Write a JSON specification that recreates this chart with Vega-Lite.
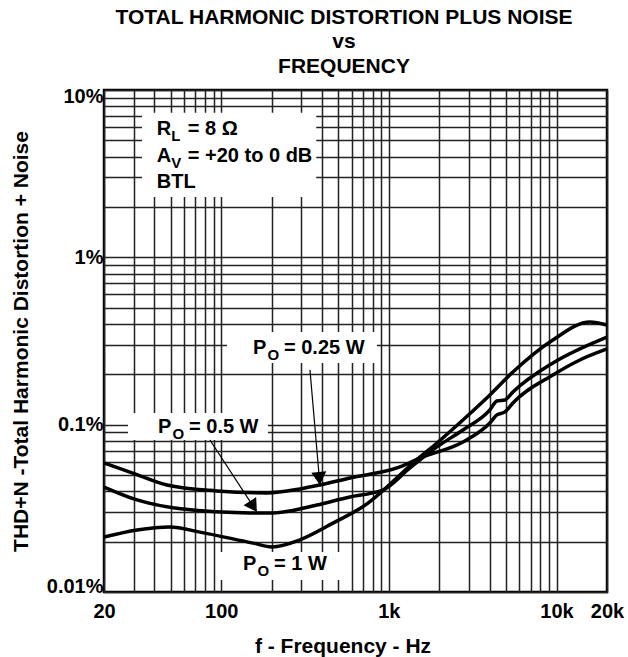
{
  "$schema": "https://vega.github.io/schema/vega-lite/v6.json",
  "width": 503,
  "height": 502,
  "autosize": {"type": "none"},
  "padding": {"left": 104, "top": 90, "right": 21, "bottom": 65},
  "background": "white",
  "title": {
    "text": ["TOTAL HARMONIC DISTORTION PLUS NOISE", "vs", "FREQUENCY"],
    "font": "Liberation Sans", "fontSize": 21, "fontWeight": "bold", "color": "black",
    "lineHeight": 24.6, "baseline": "bottom", "offset": 12, "dx": -11.5, "dy": 24,
    "anchor": "middle", "frame": "group"
  },
  "config": {
    "font": "Liberation Sans",
    "view": {"stroke": "black", "strokeWidth": 2.5},
    "axis": {
      "grid": true, "gridColor": "#222", "gridWidth": 1.5, "gridOpacity": 1,
      "ticks": false, "tickSize": 0, "domain": false,
      "labelFont": "Liberation Sans", "labelFontSize": 20, "labelFontWeight": "bold", "labelColor": "black",
      "labelOverlap": false, "labelBound": false,
      "titleFont": "Liberation Sans", "titleFontSize": 21, "titleFontWeight": "bold", "titleColor": "black"
    }
  },
  "datasets": {
    "curves": [
      {"series": "0.25 W", "f": 20, "thd": 0.059},
      {"series": "0.25 W", "f": 29.7, "thd": 0.0514},
      {"series": "0.25 W", "f": 47.5, "thd": 0.0436},
      {"series": "0.25 W", "f": 94.4, "thd": 0.0402},
      {"series": "0.25 W", "f": 187.6, "thd": 0.0391},
      {"series": "0.25 W", "f": 295, "thd": 0.0413},
      {"series": "0.25 W", "f": 388, "thd": 0.0436},
      {"series": "0.25 W", "f": 586, "thd": 0.048},
      {"series": "0.25 W", "f": 1164, "thd": 0.0559},
      {"series": "0.25 W", "f": 1532, "thd": 0.0632},
      {"series": "0.25 W", "f": 2765, "thd": 0.0788},
      {"series": "0.25 W", "f": 4005, "thd": 0.1024},
      {"series": "0.25 W", "f": 4411, "thd": 0.1143},
      {"series": "0.25 W", "f": 4924, "thd": 0.1191},
      {"series": "0.25 W", "f": 5494, "thd": 0.1348},
      {"series": "0.25 W", "f": 9515, "thd": 0.1982},
      {"series": "0.25 W", "f": 13780, "thd": 0.2436},
      {"series": "0.25 W", "f": 20000, "thd": 0.2835},
      {"series": "0.5 W", "f": 20, "thd": 0.0424},
      {"series": "0.5 W", "f": 31.5, "thd": 0.0355},
      {"series": "0.5 W", "f": 59.2, "thd": 0.0313},
      {"series": "0.5 W", "f": 148.5, "thd": 0.0297},
      {"series": "0.5 W", "f": 203.6, "thd": 0.0297},
      {"series": "0.5 W", "f": 372.6, "thd": 0.0331},
      {"series": "0.5 W", "f": 586, "thd": 0.037},
      {"series": "0.5 W", "f": 803, "thd": 0.0391},
      {"series": "0.5 W", "f": 922, "thd": 0.0407},
      {"series": "0.5 W", "f": 1336, "thd": 0.0551},
      {"series": "0.5 W", "f": 1935, "thd": 0.0736},
      {"series": "0.5 W", "f": 2765, "thd": 0.093},
      {"series": "0.5 W", "f": 4005, "thd": 0.1224},
      {"series": "0.5 W", "f": 4411, "thd": 0.1386},
      {"series": "0.5 W", "f": 4924, "thd": 0.1405},
      {"series": "0.5 W", "f": 5494, "thd": 0.1569},
      {"series": "0.5 W", "f": 9515, "thd": 0.2338},
      {"series": "0.5 W", "f": 20000, "thd": 0.334},
      {"series": "1 W", "f": 20, "thd": 0.0213},
      {"series": "1 W", "f": 31.5, "thd": 0.0235},
      {"series": "1 W", "f": 49.5, "thd": 0.0245},
      {"series": "1 W", "f": 74.7, "thd": 0.0228},
      {"series": "1 W", "f": 154.7, "thd": 0.0196},
      {"series": "1 W", "f": 200.8, "thd": 0.0186},
      {"series": "1 W", "f": 295, "thd": 0.0205},
      {"series": "1 W", "f": 464, "thd": 0.0258},
      {"series": "1 W", "f": 740, "thd": 0.0336},
      {"series": "1 W", "f": 1164, "thd": 0.05},
      {"series": "1 W", "f": 1392, "thd": 0.059},
      {"series": "1 W", "f": 1935, "thd": 0.0777},
      {"series": "1 W", "f": 2765, "thd": 0.1067},
      {"series": "1 W", "f": 4005, "thd": 0.1505},
      {"series": "1 W", "f": 5494, "thd": 0.2065},
      {"series": "1 W", "f": 9515, "thd": 0.321},
      {"series": "1 W", "f": 15820, "thd": 0.411},
      {"series": "1 W", "f": 20000, "thd": 0.394}
    ],
    "boxes": [
      {"name": "conditions", "f1": 33.7, "f2": 369, "t1": 2.296, "t2": 7.3},
      {"name": "0.25 W", "f1": 108.3, "f2": 849, "t1": 0.2338, "t2": 0.358},
      {"name": "0.5 W", "f1": 27.8, "f2": 190, "t1": 0.081, "t2": 0.1175},
      {"name": "1 W", "f1": 94.4, "f2": 547, "t1": 0.0118, "t2": 0.01734}
    ],
    "arrows": [
      {"name": "0.25 W", "f": 338.4, "thd": 0.2123, "f2": 385, "thd2": 0.0477},
      {"name": "0.5 W", "f": 85.7, "thd": 0.081, "f2": 155.6, "thd2": 0.0324}
    ],
    "notes": [
      {"f": 41.3, "thd": 5.39, "lead": "R", "sub": "L", "rest": "= 8 Ω"},
      {"f": 41.3, "thd": 3.733, "lead": "A", "sub": "V", "rest": "= +20 to 0 dB"},
      {"f": 41.3, "thd": 2.599, "lead": "BTL", "sub": "", "rest": ""},
      {"f": 154.7, "thd": 0.2646, "lead": "P", "sub": "O", "rest": "= 0.25 W"},
      {"f": 42, "thd": 0.0892, "lead": "P", "sub": "O", "rest": "= 0.5 W"},
      {"f": 134.9, "thd": 0.01353, "lead": "P", "sub": "O", "rest": "= 1 W"}
    ]
  },
  "encoding": {
    "x": {
      "field": "f", "type": "quantitative",
      "scale": {"type": "log", "domain": [20, 20000], "nice": false},
      "axis": {
        "values": [20, 30, 40, 50, 60, 70, 80, 90, 100, 200, 300, 400, 500, 600, 700, 800, 900, 1000, 2000, 3000, 4000, 5000, 6000, 7000, 8000, 9000, 10000, 20000],
        "labelExpr": "datum.value == 20 ? '20' : datum.value == 100 ? '100' : datum.value == 1000 ? '1k' : datum.value == 10000 ? '10k' : datum.value == 20000 ? '20k' : ''",
        "labelPadding": 9, "labelFlush": false,
        "title": "f - Frequency - Hz", "titlePadding": 14, "titleX": 238.5
      }
    },
    "y": {
      "field": "thd", "type": "quantitative",
      "scale": {"type": "log", "domain": [0.01, 10], "nice": false},
      "axis": {
        "values": [0.01, 0.02, 0.03, 0.04, 0.05, 0.06, 0.07, 0.08, 0.09, 0.1, 0.2, 0.3, 0.4, 0.5, 0.6, 0.7, 0.8, 0.9, 1, 2, 3, 4, 5, 6, 7, 8, 9, 10],
        "labelExpr": "datum.value == 0.01 ? '0.01%' : datum.value == 0.1 ? '0.1%' : datum.value == 1 ? '1%' : datum.value == 10 ? '10%' : ''",
        "labelPadding": 1, "labelFlush": true, "labelFlushOffset": 4,
        "title": "THD+N -Total Harmonic Distortion + Noise", "titlePadding": 15
      }
    }
  },
  "layer": [
    {
      "data": {"name": "boxes"},
      "mark": {"type": "rect", "fill": "white", "stroke": null},
      "encoding": {
        "x": {"field": "f1", "type": "quantitative"},
        "x2": {"field": "f2"},
        "y": {"field": "t1", "type": "quantitative"},
        "y2": {"field": "t2"}
      }
    },
    {
      "data": {"name": "curves"},
      "mark": {"type": "line", "interpolate": "monotone", "strokeWidth": 3.5, "color": "black"},
      "encoding": {"detail": {"field": "series"}}
    },
    {
      "data": {"name": "arrows"},
      "mark": {"type": "rule", "strokeWidth": 1.2, "color": "black"},
      "encoding": {
        "x2": {"field": "f2"},
        "y2": {"field": "thd2"}
      }
    },
    {
      "data": {"name": "arrows"},
      "transform": [{"filter": "datum.name == '0.25 W'"}],
      "mark": {"type": "point", "shape": "triangle-down", "filled": true, "color": "black", "size": 225, "angle": -5, "opacity": 1},
      "encoding": {
        "x": {"field": "f2", "type": "quantitative"},
        "y": {"field": "thd2", "type": "quantitative"}
      }
    },
    {
      "data": {"name": "arrows"},
      "transform": [{"filter": "datum.name == '0.5 W'"}],
      "mark": {"type": "point", "shape": "triangle-down", "filled": true, "color": "black", "size": 225, "angle": -33, "opacity": 1},
      "encoding": {
        "x": {"field": "f2", "type": "quantitative"},
        "y": {"field": "thd2", "type": "quantitative"}
      }
    },
    {
      "data": {"name": "notes"},
      "mark": {"type": "text", "align": "left", "baseline": "alphabetic", "font": "Liberation Sans", "fontSize": 20, "fontWeight": "bold", "color": "black"},
      "encoding": {"text": {"field": "lead"}}
    },
    {
      "data": {"name": "notes"},
      "mark": {"type": "text", "align": "left", "baseline": "alphabetic", "font": "Liberation Sans", "fontSize": 15, "fontWeight": "bold", "color": "black", "dx": 14.5, "dy": 6},
      "encoding": {"text": {"field": "sub"}}
    },
    {
      "data": {"name": "notes"},
      "mark": {"type": "text", "align": "left", "baseline": "alphabetic", "font": "Liberation Sans", "fontSize": 20, "fontWeight": "bold", "color": "black", "dx": 31},
      "encoding": {"text": {"field": "rest"}}
    }
  ]
}
